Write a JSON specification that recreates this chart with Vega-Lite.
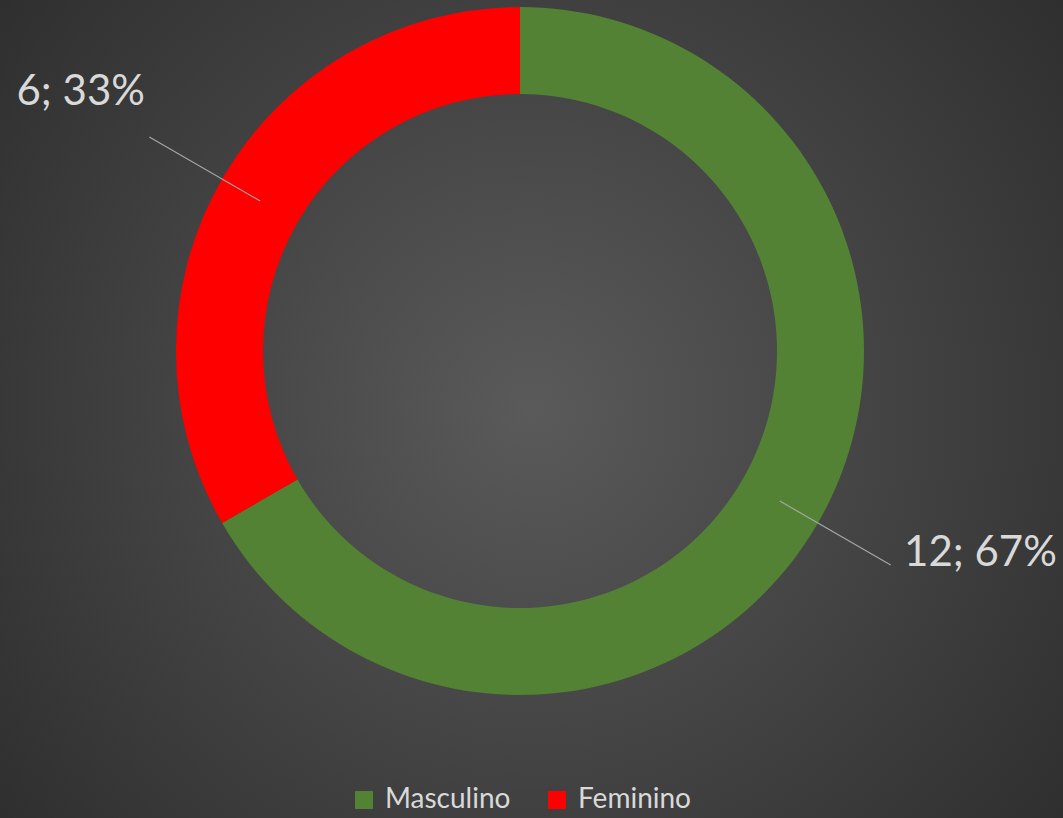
{
  "$schema": "https://vega.github.io/schema/vega-lite/v6.json",
  "width": 1040,
  "height": 702,
  "autosize": {"type": "none"},
  "padding": {"left": 0, "top": 0, "right": 23, "bottom": 116},
  "background": "#2e2e2e",
  "datasets": {
    "sexo": [
      {"sexo": "Masculino", "valor": 12, "rotulo": "12; 67%"},
      {"sexo": "Feminino", "valor": 6, "rotulo": "6; 33%"}
    ]
  },
  "data": {"name": "sexo"},
  "config": {
    "view": {"stroke": null},
    "legend": {"layout": {"bottom": {"anchor": "middle"}}}
  },
  "resolve": {"scale": {"theta": "independent"}},
  "layer": [
    {
      "data": {"values": [{"fundo": 1}]},
      "mark": {
        "type": "rect",
        "fill": {
          "gradient": "radial",
          "x1": 0.5, "y1": 0.5, "r1": 0,
          "x2": 0.5, "y2": 0.5, "r2": 0.7,
          "stops": [
            {"offset": 0, "color": "#5a5a5a"},
            {"offset": 1, "color": "#2a2a2a"}
          ]
        },
        "x2Offset": 23,
        "y2Offset": 116
      },
      "encoding": {
        "x": {"value": 0},
        "x2": {"value": "width"},
        "y": {"value": 0},
        "y2": {"value": "height"}
      }
    },
    {
      "mark": {"type": "arc", "innerRadius": 257, "outerRadius": 344},
      "encoding": {
        "theta": {"field": "valor", "type": "quantitative", "stack": true},
        "color": {
          "field": "sexo",
          "type": "nominal",
          "scale": {"domain": ["Masculino", "Feminino"], "range": ["#548235", "#ff0000"]},
          "legend": {
            "title": null,
            "orient": "bottom",
            "direction": "horizontal",
            "symbolType": "square",
            "symbolSize": 324,
            "symbolStrokeWidth": 0,
            "symbolOpacity": 1,
            "labelFont": "Lato",
            "labelFontSize": 28,
            "labelColor": "#d9d9d9",
            "labelOffset": 7,
            "columnPadding": 32,
            "offset": 84
          }
        },
        "order": {"field": "sexo", "sort": "descending"}
      }
    },
    {
      "mark": {
        "type": "arc",
        "filled": false,
        "stroke": "#a6a6a6",
        "strokeWidth": 1.2,
        "innerRadius": 300,
        "outerRadius": 428,
        "padAngle": 3.2
      },
      "encoding": {
        "theta": {
          "aggregate": "count",
          "type": "quantitative",
          "stack": true,
          "scale": {"range": [0.5235988, 6.8067841]}
        },
        "detail": {"field": "sexo", "type": "nominal"},
        "order": {"field": "sexo", "sort": "descending"}
      }
    },
    {
      "mark": {
        "type": "text",
        "radius": 440,
        "font": "Lato",
        "fontSize": 42,
        "fill": "#d9d9d9",
        "baseline": "middle",
        "dx": {"expr": "datum.sexo === 'Masculino' ? 3 : 6"},
        "dy": {"expr": "datum.sexo === 'Masculino' ? -18 : -39"},
        "align": {"expr": "datum.sexo === 'Masculino' ? 'left' : 'right'"}
      },
      "encoding": {
        "theta": {"field": "valor", "type": "quantitative", "stack": true},
        "text": {"field": "rotulo"},
        "order": {"field": "sexo", "sort": "descending"}
      }
    }
  ]
}
